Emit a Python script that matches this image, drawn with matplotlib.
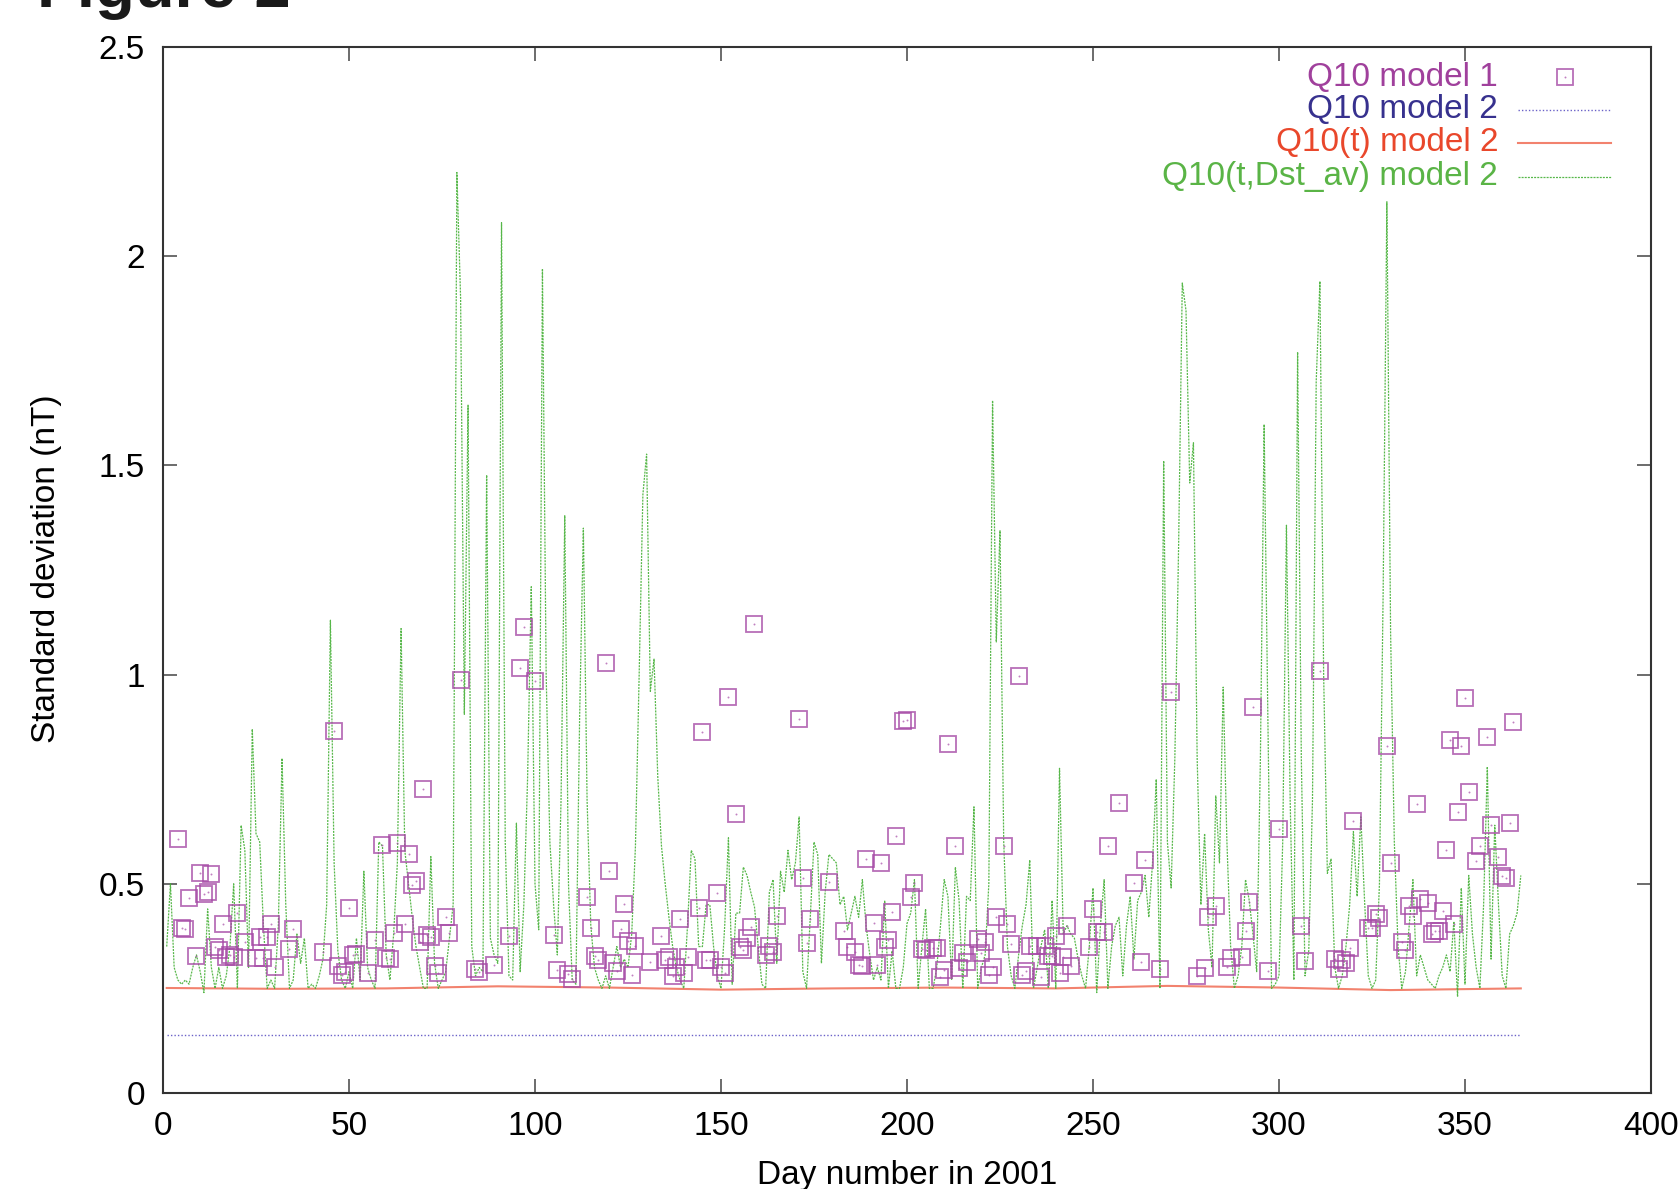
import matplotlib
matplotlib.use("Agg")
import matplotlib.pyplot as plt
from matplotlib.lines import Line2D
import numpy as np

plt.rcParams['font.family'] = ['Liberation Sans', 'DejaVu Sans']

# ---------------- data ----------------
# Q10(t,Dst_av) model 2 : one value per day, days 1..365
green_days = list(range(1, 366))
green_vals = [
    0.35, 0.50, 0.30, 0.27, 0.26, 0.27, 0.26, 0.30, 0.33, 0.29,   # 1-10
    0.24, 0.44, 0.30, 0.25, 0.30, 0.25, 0.28, 0.35, 0.50, 0.25,   # 11-20
    0.64, 0.58, 0.30, 0.87, 0.62, 0.60, 0.40, 0.25, 0.27, 0.25,   # 21-30
    0.40, 0.80, 0.45, 0.25, 0.27, 0.38, 0.31, 0.37, 0.25, 0.26,   # 31-40
    0.25, 0.28, 0.32, 0.45, 1.13, 0.55, 0.34, 0.27, 0.25, 0.29,   # 41-50
    0.25, 0.37, 0.27, 0.53, 0.30, 0.27, 0.25, 0.60, 0.59, 0.33,   # 51-60
    0.27, 0.38, 0.55, 1.11, 0.58, 0.50, 0.42, 0.35, 0.30, 0.25,   # 61-70
    0.25, 0.565, 0.31, 0.25, 0.27, 0.29, 0.37, 0.45, 2.20, 1.90,  # 71-80
    0.905, 1.644, 0.35, 0.28, 0.30, 0.29, 1.477, 0.37, 0.33, 0.31,  # 81-90
    2.08, 0.60, 0.28, 0.27, 0.645, 0.29, 0.45, 0.75, 1.21, 0.50,  # 91-100
    0.39, 1.97, 1.00, 0.60, 0.45, 0.33, 0.70, 1.38, 0.50, 0.27,   # 101-110
    0.26, 0.90, 1.35, 0.70, 0.40, 0.30, 0.27, 0.25, 0.28, 0.25,   # 111-120
    0.30, 0.35, 0.30, 0.32, 0.30, 0.38, 0.59, 1.00, 1.43, 1.527,  # 121-130
    0.96, 1.037, 0.756, 0.59, 0.50, 0.42, 0.35, 0.30, 0.27, 0.25, # 131-140
    0.40, 0.58, 0.56, 0.35, 0.35, 0.45, 0.45, 0.35, 0.28, 0.25,   # 141-150
    0.40, 0.61, 0.26, 0.43, 0.43, 0.54, 0.52, 0.48, 0.445, 0.35,  # 151-160
    0.26, 0.25, 0.48, 0.51, 0.31, 0.53, 0.48, 0.58, 0.51, 0.55,   # 161-170
    0.66, 0.29, 0.25, 0.42, 0.60, 0.57, 0.31, 0.48, 0.57, 0.56,   # 171-180
    0.55, 0.45, 0.47, 0.39, 0.43, 0.47, 0.42, 0.51, 0.40, 0.33,   # 181-190
    0.27, 0.30, 0.27, 0.46, 0.25, 0.34, 0.25, 0.25, 0.30, 0.405,  # 191-200
    0.43, 0.51, 0.25, 0.35, 0.44, 0.25, 0.25, 0.30, 0.40, 0.51,   # 201-210
    0.47, 0.27, 0.54, 0.46, 0.25, 0.47, 0.46, 0.684, 0.25, 0.30,  # 211-220
    0.33, 0.50, 1.655, 1.078, 1.344, 0.60, 0.35, 0.28, 0.25, 0.33,  # 221-230
    0.40, 0.45, 0.557, 0.25, 0.30, 0.35, 0.39, 0.25, 0.46, 0.25,  # 231-240
    0.776, 0.38, 0.40, 0.38, 0.37, 0.32, 0.28, 0.25, 0.35, 0.49,  # 241-250
    0.24, 0.40, 0.51, 0.25, 0.35, 0.40, 0.42, 0.28, 0.40, 0.47,   # 251-260
    0.32, 0.46, 0.48, 0.52, 0.42, 0.55, 0.75, 0.25, 1.511, 0.60,  # 261-270
    0.49, 0.80, 1.30, 1.936, 1.87, 1.458, 1.554, 0.80, 0.45, 0.62,  # 271-280
    0.39, 0.30, 0.71, 0.55, 0.97, 0.60, 0.35, 0.25, 0.28, 0.35,   # 281-290
    0.51, 0.46, 0.38, 0.29, 0.80, 1.598, 0.90, 0.25, 0.26, 0.28,  # 291-300
    0.60, 1.357, 0.70, 0.27, 1.771, 0.80, 0.28, 0.34, 0.70, 1.70,  # 301-310
    1.94, 1.00, 0.525, 0.56, 0.30, 0.25, 0.28, 0.35, 0.45, 0.625, # 311-320
    0.47, 0.66, 0.46, 0.28, 0.25, 0.27, 0.50, 1.20, 2.13, 1.10,   # 321-330
    0.60, 0.35, 0.25, 0.29, 0.40, 0.51, 0.28, 0.33, 0.30, 0.27,   # 331-340
    0.26, 0.25, 0.28, 0.30, 0.33, 0.29, 0.41, 0.23, 0.49, 0.26,   # 341-350
    0.52, 0.38, 0.30, 0.25, 0.45, 0.78, 0.32, 0.64, 0.45, 0.28,   # 351-360
    0.25, 0.38, 0.40, 0.43, 0.52,                                 # 361-365
]

# Q10 model 1 : open squares
sq_days = [
    4, 5, 6, 7, 9, 10, 11, 12, 13, 14, 15, 16, 17, 18, 19, 20, 22, 25, 26, 27,
    28, 29, 30, 34, 35, 43, 46, 47, 48, 49, 50, 51, 52, 55, 57, 59, 60, 61, 62, 63,
    65, 66, 67, 68, 69, 70, 71, 72, 73, 74, 76, 77, 80, 84, 85, 89, 93, 96, 97, 100,
    105, 106, 109, 110, 114, 115, 116, 117, 119, 120, 121, 122, 123, 124, 125, 126, 127, 131, 134, 135,
    136, 137, 138, 139, 140, 141, 144, 145, 146, 147, 149, 150, 151, 152, 154, 155, 156, 157, 158, 159,
    162, 163, 164, 165, 171, 172, 173, 174, 179, 183, 184, 186, 187, 188, 189, 191, 192, 193, 194, 195,
    196, 197, 199, 200, 201, 202, 204, 205, 207, 208, 209, 210, 211, 213, 214, 215, 216, 219, 220, 221,
    222, 223, 224, 226, 227, 228, 230, 231, 232, 233, 235, 236, 237, 238, 239, 240, 241, 242, 243, 244,
    249, 250, 251, 253, 254, 257, 261, 263, 264, 268, 271, 278, 280, 281, 283, 286, 287, 290, 291, 292,
    293, 297, 300, 306, 307, 311, 315, 316, 317, 318, 319, 320, 324, 325, 326, 327, 329, 330, 333, 334,
    335, 336, 337, 338, 340, 341, 342, 343, 344, 345, 346, 347, 348, 349, 350, 351, 353, 354, 356, 357,
    359, 360, 361, 362, 363,
]
sq_vals = [
    0.606, 0.394, 0.391, 0.467, 0.327, 0.525, 0.475, 0.480, 0.523, 0.348, 0.342, 0.404, 0.326, 0.330, 0.326, 0.430, 0.362, 0.322, 0.372, 0.322,
    0.372, 0.404, 0.302, 0.344, 0.393, 0.338, 0.866, 0.304, 0.282, 0.290, 0.441, 0.331, 0.332, 0.286, 0.366, 0.593, 0.322, 0.320, 0.383, 0.597,
    0.403, 0.571, 0.496, 0.507, 0.360, 0.726, 0.378, 0.372, 0.304, 0.286, 0.421, 0.383, 0.987, 0.296, 0.290, 0.306, 0.375, 1.016, 1.114, 0.985,
    0.377, 0.294, 0.285, 0.272, 0.468, 0.395, 0.327, 0.319, 1.028, 0.530, 0.310, 0.292, 0.391, 0.452, 0.364, 0.283, 0.351, 0.312, 0.375, 0.319,
    0.324, 0.280, 0.300, 0.415, 0.288, 0.324, 0.443, 0.864, 0.319, 0.319, 0.479, 0.300, 0.286, 0.947, 0.666, 0.350, 0.342, 0.370, 0.396, 1.120,
    0.329, 0.351, 0.336, 0.424, 0.894, 0.515, 0.358, 0.417, 0.504, 0.387, 0.350, 0.338, 0.306, 0.304, 0.560, 0.407, 0.306, 0.550, 0.350, 0.366,
    0.433, 0.614, 0.890, 0.891, 0.469, 0.501, 0.343, 0.342, 0.346, 0.346, 0.278, 0.294, 0.834, 0.591, 0.298, 0.335, 0.314, 0.367, 0.334, 0.360,
    0.282, 0.300, 0.421, 0.591, 0.403, 0.355, 0.997, 0.282, 0.292, 0.352, 0.352, 0.278, 0.352, 0.327, 0.327, 0.376, 0.286, 0.326, 0.399, 0.304,
    0.350, 0.439, 0.384, 0.384, 0.591, 0.694, 0.501, 0.312, 0.558, 0.296, 0.958, 0.280, 0.298, 0.421, 0.448, 0.302, 0.323, 0.326, 0.388, 0.457,
    0.923, 0.292, 0.631, 0.398, 0.316, 1.008, 0.320, 0.296, 0.318, 0.310, 0.346, 0.650, 0.395, 0.394, 0.427, 0.419, 0.830, 0.550, 0.360, 0.342,
    0.448, 0.423, 0.690, 0.464, 0.453, 0.379, 0.387, 0.387, 0.435, 0.581, 0.844, 0.405, 0.672, 0.830, 0.944, 0.720, 0.554, 0.591, 0.850, 0.640,
    0.565, 0.519, 0.515, 0.646, 0.886,
]

# Q10(t) model 2 : smooth, slowly varying
red_days = [1, 30, 60, 90, 120, 150, 180, 210, 240, 270, 300, 330, 365]
red_vals = [0.251, 0.249, 0.250, 0.255, 0.252, 0.247, 0.250, 0.252, 0.250, 0.256, 0.252, 0.246, 0.250]

# Q10 model 2 : constant
blue_days = [1, 365]
blue_vals = [0.138, 0.138]

legend_labels = ["Q10 model 1", "Q10 model 2", "Q10(t) model 2", "Q10(t,Dst_av) model 2"]
x_ticks = [0, 50, 100, 150, 200, 250, 300, 350, 400]
y_ticks = [0, 0.5, 1, 1.5, 2, 2.5]
y_tick_labels = ["0", "0.5", "1", "1.5", "2", "2.5"]

# ---------------- style ----------------
C_SQ = '#a64aa6'
C_SQ_TXT = '#a0409c'
C_BLUE = '#6b62c8'
C_BLUE_TXT = '#37318e'
C_RED = '#f2826e'
C_RED_TXT = '#e9472b'
C_GREEN = '#45b036'
C_GREEN_TXT = '#5ab446'
FS = 24
MS = 11.5

W, H = 1678, 1189
fig = plt.figure(figsize=(W / 100, H / 100), dpi=100)
L, R, T, B = 163, 1651, 47, 1093
ax = fig.add_axes([L / W, 1 - B / H, (R - L) / W, (B - T) / H])

ax.plot(blue_days, blue_vals, color=C_BLUE, lw=1.0, ls=(0, (1, 1.5)), zorder=2)
ax.plot(red_days, red_vals, color=C_RED, lw=1.5, ls='-', zorder=2)
ax.plot(green_days, green_vals, color=C_GREEN, lw=0.9, ls=(0, (1.6, 0.9)), alpha=0.9, zorder=3)
ax.plot(sq_days, sq_vals, ls='none', marker='s', ms=MS, mfc='none', mec=C_SQ,
        mew=1.3, alpha=0.8, zorder=4)
ax.plot(sq_days, sq_vals, ls='none', marker='o', ms=1.4, mfc=C_SQ, mec='none', alpha=0.7, zorder=4)

ax.set_xlim(0, 400)
ax.set_ylim(0, 2.5)
ax.set_xticks(x_ticks)
ax.set_xticklabels([str(v) for v in x_ticks])
ax.set_yticks(y_ticks)
ax.set_yticklabels(y_tick_labels)
ax.tick_params(axis='both', direction='in', length=10, width=1.1, color='#444444',
               top=True, right=True, labelsize=FS)
ax.tick_params(axis='x', pad=13)
ax.tick_params(axis='y', pad=13)
for s in ax.spines.values():
    s.set_linewidth(1.5)
    s.set_color('#333333')

ax.set_xlabel("Day number in 2001", fontsize=FS, va='top')
ax.xaxis.set_label_coords(0.5, -0.064)
ax.set_ylabel("Standard deviation (nT)", fontsize=FS, va='center')
ax.yaxis.set_label_coords(-0.078, 0.501)

# legend (gnuplot style: right-aligned coloured text, sample on the right)
txt_x = (1498 - L) / (R - L)
samp_x0 = (1518 - L) / (R - L)
samp_x1 = (1611 - L) / (R - L)
samp_xc = (1565 - L) / (R - L)
rows_y = [(B - yy) / (B - T) for yy in (77, 110, 143, 176.5)]
txt_cols = [C_SQ_TXT, C_BLUE_TXT, C_RED_TXT, C_GREEN_TXT]
for lab, yy, col in zip(legend_labels, rows_y, txt_cols):
    ax.text(txt_x, yy, lab, transform=ax.transAxes, ha='right', va='center',
            fontsize=FS, color=col)
ax.add_line(Line2D([samp_xc], [rows_y[0]], transform=ax.transAxes, ls='none', marker='s',
                   ms=MS, mfc='none', mec=C_SQ, mew=1.3, alpha=0.8))
ax.add_line(Line2D([samp_xc], [rows_y[0]], transform=ax.transAxes, ls='none', marker='o',
                   ms=1.4, mfc=C_SQ, mec='none', alpha=0.7))
ax.add_line(Line2D([samp_x0, samp_x1], [rows_y[1]] * 2, transform=ax.transAxes,
                   color=C_BLUE, lw=1.0, ls=(0, (1, 1.5))))
ax.add_line(Line2D([samp_x0, samp_x1], [rows_y[2]] * 2, transform=ax.transAxes,
                   color=C_RED, lw=1.5))
ax.add_line(Line2D([samp_x0, samp_x1], [rows_y[3]] * 2, transform=ax.transAxes,
                   color=C_GREEN, lw=0.9, ls=(0, (1.6, 0.9)), alpha=0.9))

# title, cut off at the top as in the reference
fig.text(37 / W, 1 - 7 / H, "Figure 2", fontsize=47, fontweight='bold',
         ha='left', va='baseline', color='#1a1a1a')

fig.savefig("out.png", dpi=100)
